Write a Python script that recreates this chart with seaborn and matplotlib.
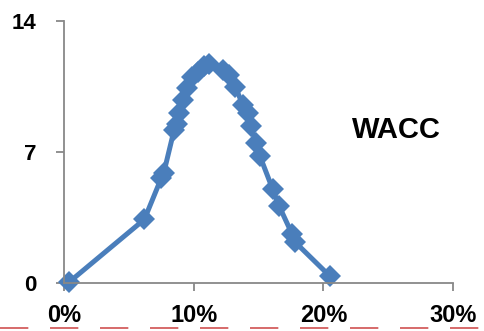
import numpy as np
import pandas as pd
import seaborn as sns
import matplotlib.pyplot as plt
from matplotlib.lines import Line2D
from matplotlib.ticker import FuncFormatter

# cost of capital vs. frequency
wacc = [0.004, 0.062, 0.075, 0.077, 0.085, 0.087, 0.089, 0.092, 0.095, 0.099,
        0.103, 0.108, 0.112, 0.123, 0.127, 0.132, 0.138, 0.142, 0.144, 0.148,
        0.151, 0.161, 0.166, 0.176, 0.178, 0.205]
count = [0.05, 3.4, 5.6, 5.9, 8.2, 8.5, 9.1, 9.8, 10.4, 11.0,
         11.3, 11.6, 11.7, 11.4, 11.1, 10.5, 9.5, 9.1, 8.4, 7.5,
         6.8, 5.0, 4.1, 2.6, 2.2, 0.37]
xticks = [0, 0.1, 0.2, 0.3]
yticks = [0, 7, 14]

df = pd.DataFrame({"wacc": wacc, "count": count})

sns.set_style("white")
plt.rcParams['font.family'] = ['Liberation Sans', 'DejaVu Sans']
plt.rcParams['text.color'] = 'black'
plt.rcParams['xtick.labelcolor'] = 'black'
plt.rcParams['ytick.labelcolor'] = 'black'

fig = plt.figure(figsize=(4.85, 3.31), dpi=100)
ax = fig.add_axes([64 / 485, 48 / 331, 389 / 485, 262 / 331])

blue = "#4a7ebb"
sns.lineplot(data=df, x="wacc", y="count", ax=ax, color=blue, lw=3.6,
             marker="D", markersize=11.5, markeredgewidth=0, sort=False,
             estimator=None, solid_joinstyle="round", solid_capstyle="round")

ax.set_xlim(0, 0.3)
ax.set_ylim(0, 14)
ax.set_xticks(xticks)
ax.set_yticks(yticks)
ax.xaxis.set_major_formatter(FuncFormatter(lambda v, p: f"{v * 100:.0f}%"))
ax.set_xlabel("")
ax.set_ylabel("")

for s in ["top", "right"]:
    ax.spines[s].set_visible(False)
for s in ["left", "bottom"]:
    ax.spines[s].set_color("#888888")
    ax.spines[s].set_linewidth(1.3)

ax.tick_params(axis="x", direction="out", length=6, width=1.3, color="#888888",
               pad=9, labelsize=17, bottom=True)
ax.tick_params(axis="y", direction="out", length=6, width=1.3, color="#888888",
               pad=14, labelsize=16, left=True)
for lbl in ax.get_xticklabels() + ax.get_yticklabels():
    lbl.set_fontweight("bold")

ax.text(0.74, 0.585, "WACC", transform=ax.transAxes, fontsize=21,
        fontweight="bold", ha="left", va="center", color="black")
for a in ax.lines:
    a.set_clip_on(False)

# red dashed underline along the bottom edge
fig.add_artist(Line2D([0, 1], [3 / 331, 3 / 331], transform=fig.transFigure,
                      color="#d05050", lw=1.2, dashes=(17, 13)))

fig.savefig("out.png", dpi=100)
